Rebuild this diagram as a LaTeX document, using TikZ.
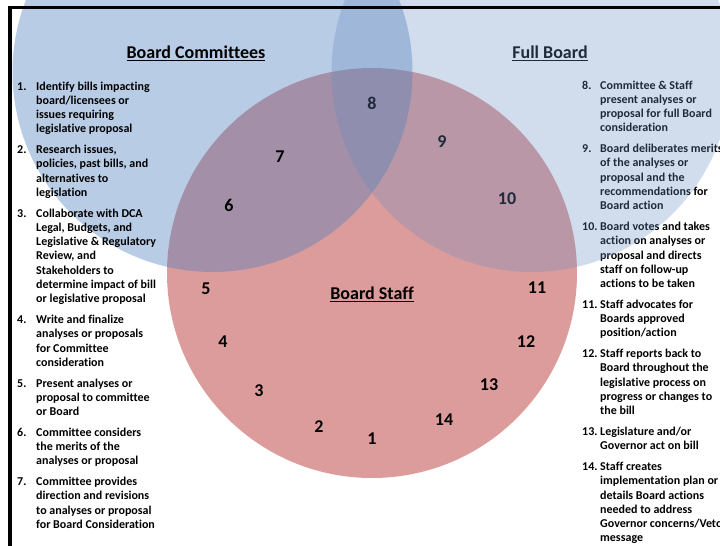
\documentclass[tikz,border=0pt]{standalone}
\usepackage{fontspec}
\setmainfont{Carlito}[Ligatures=NoCommon]
\definecolor{staffred}{RGB}{221,156,156}
\definecolor{commblue}{RGB}{68,122,186}
\definecolor{boardblue}{RGB}{103,140,193}
\newcommand\ulin[1]{\setbox0\hbox{#1}\rlap{\rule[-2.8pt]{\wd0}{1.3pt}}\box0}
\begin{document}
\begin{tikzpicture}[x=1pt,y=-1pt,
  numlbl/.style={font=\fontsize{18}{20}\selectfont\bfseries, inner sep=0pt, text=black},
  heading/.style={font=\fontsize{18}{20}\selectfont\bfseries, inner sep=0pt, anchor=base, text=black},
  listtxt/.style={font=\fontsize{12}{14.25}\selectfont\bfseries, inner sep=0pt, anchor=base west, align=left, text=black}
]
\clip (0,0) rectangle (720,546);
\fill[white] (0,0) rectangle (720,546);
\coordinate (cL) at (212.5,72);
\coordinate (cR) at (531.5,72);
\coordinate (cS) at (372,273);
% circles
\fill[staffred] (cS) circle[radius=205pt];
\fill[commblue, fill opacity=0.375] (cL) circle[radius=200pt];
% headings
\node[heading] (hC) at (196,58) {\ulin{Board Committees}};
\node[heading] (hF) at (550,58) {\ulin{Full Board}};
\node[heading] (hS) at (372,299) {\ulin{Board Staff}};
% numbers
\node[numlbl] (n1) at (372,439) {1};
\node[numlbl] (n2) at (319,427) {2};
\node[numlbl] (n3) at (259,391) {3};
\node[numlbl] (n4) at (223,342) {4};
\node[numlbl] (n5) at (206,289) {5};
\node[numlbl] (n6) at (229,205) {6};
\node[numlbl] (n7) at (280,157) {7};
\node[numlbl] (n8) at (372,103) {8};
\node[numlbl] (n9) at (442,142) {9};
\node[numlbl] (n10) at (507,199) {10};
\node[numlbl] (n11) at (537,288) {11};
\node[numlbl] (n12) at (526,342) {12};
\node[numlbl] (n13) at (489,385) {13};
\node[numlbl] (n14) at (444,420) {14};
% left list
\node[listtxt] (l1) at (17,90) {\begin{tabular}[t]{@{}p{19pt}@{}l@{}}1.&Identify bills impacting\\&board/licensees or\\&issues requiring\\&legislative proposal\end{tabular}};
\node[listtxt] (l2) at (17,153.6) {\begin{tabular}[t]{@{}p{19pt}@{}l@{}}2.&Research issues,\\&policies, past bills, and\\&alternatives to\\&legislation\end{tabular}};
\node[listtxt] (l3) at (17,217.2) {\begin{tabular}[t]{@{}p{19pt}@{}l@{}}3.&Collaborate with DCA\\&Legal, Budgets, and\\&Legislative \& Regulatory\\&Review, and\\&Stakeholders to\\&determine impact of bill\\&or legislative proposal\end{tabular}};
\node[listtxt] (l4) at (17,323.5) {\begin{tabular}[t]{@{}p{19pt}@{}l@{}}4.&Write and finalize\\&analyses or proposals\\&for Committee\\&consideration\end{tabular}};
\node[listtxt] (l5) at (17,387) {\begin{tabular}[t]{@{}p{19pt}@{}l@{}}5.&Present analyses or\\&proposal to committee\\&or Board\end{tabular}};
\node[listtxt] (l6) at (17,436.3) {\begin{tabular}[t]{@{}p{19pt}@{}l@{}}6.&Committee considers\\&the merits of the\\&analyses or proposal\end{tabular}};
\node[listtxt] (l7) at (17,485.6) {\begin{tabular}[t]{@{}p{19pt}@{}l@{}}7.&Committee provides\\&direction and revisions\\&to analyses or proposal\\&for Board Consideration\end{tabular}};
% right list
\node[listtxt] (r8) at (582,89) {\begin{tabular}[t]{@{}p{18pt}@{}l@{}}8.&Committee \& Staff\\&present analyses or\\&proposal for full Board\\&consideration\end{tabular}};
\node[listtxt] (r9) at (582,152.6) {\begin{tabular}[t]{@{}p{18pt}@{}l@{}}9.&Board deliberates merits\\&of the analyses or\\&proposal and the\\&recommendations for\\&Board action\end{tabular}};
\node[listtxt] (r10) at (582,230.5) {\begin{tabular}[t]{@{}p{18pt}@{}l@{}}10.&Board votes and takes\\&action on analyses or\\&proposal and directs\\&staff on follow-up\\&actions to be taken\end{tabular}};
\node[listtxt] (r11) at (582,308.3) {\begin{tabular}[t]{@{}p{18pt}@{}l@{}}11.&Staff advocates for\\&Boards approved\\&position/action\end{tabular}};
\node[listtxt] (r12) at (582,357.6) {\begin{tabular}[t]{@{}p{18pt}@{}l@{}}12.&Staff reports back to\\&Board throughout the\\&legislative process on\\&progress or changes to\\&the bill\end{tabular}};
\node[listtxt] (r13) at (582,435.5) {\begin{tabular}[t]{@{}p{18pt}@{}l@{}}13.&Legislature and/or\\&Governor act on bill\end{tabular}};
\node[listtxt] (r14) at (582,470.6) {\begin{tabular}[t]{@{}p{18pt}@{}l@{}}14.&Staff creates\\&implementation plan or\\&details Board actions\\&needed to address\\&Governor concerns/Veto\\&message\end{tabular}};
% right circle over everything
\fill[boardblue, fill opacity=0.3] (cR) circle[radius=200pt];
% frame
\draw[line width=3.5pt] (10,546) -- (10,7.5) -- (720,7.5);
\end{tikzpicture}
\end{document}
